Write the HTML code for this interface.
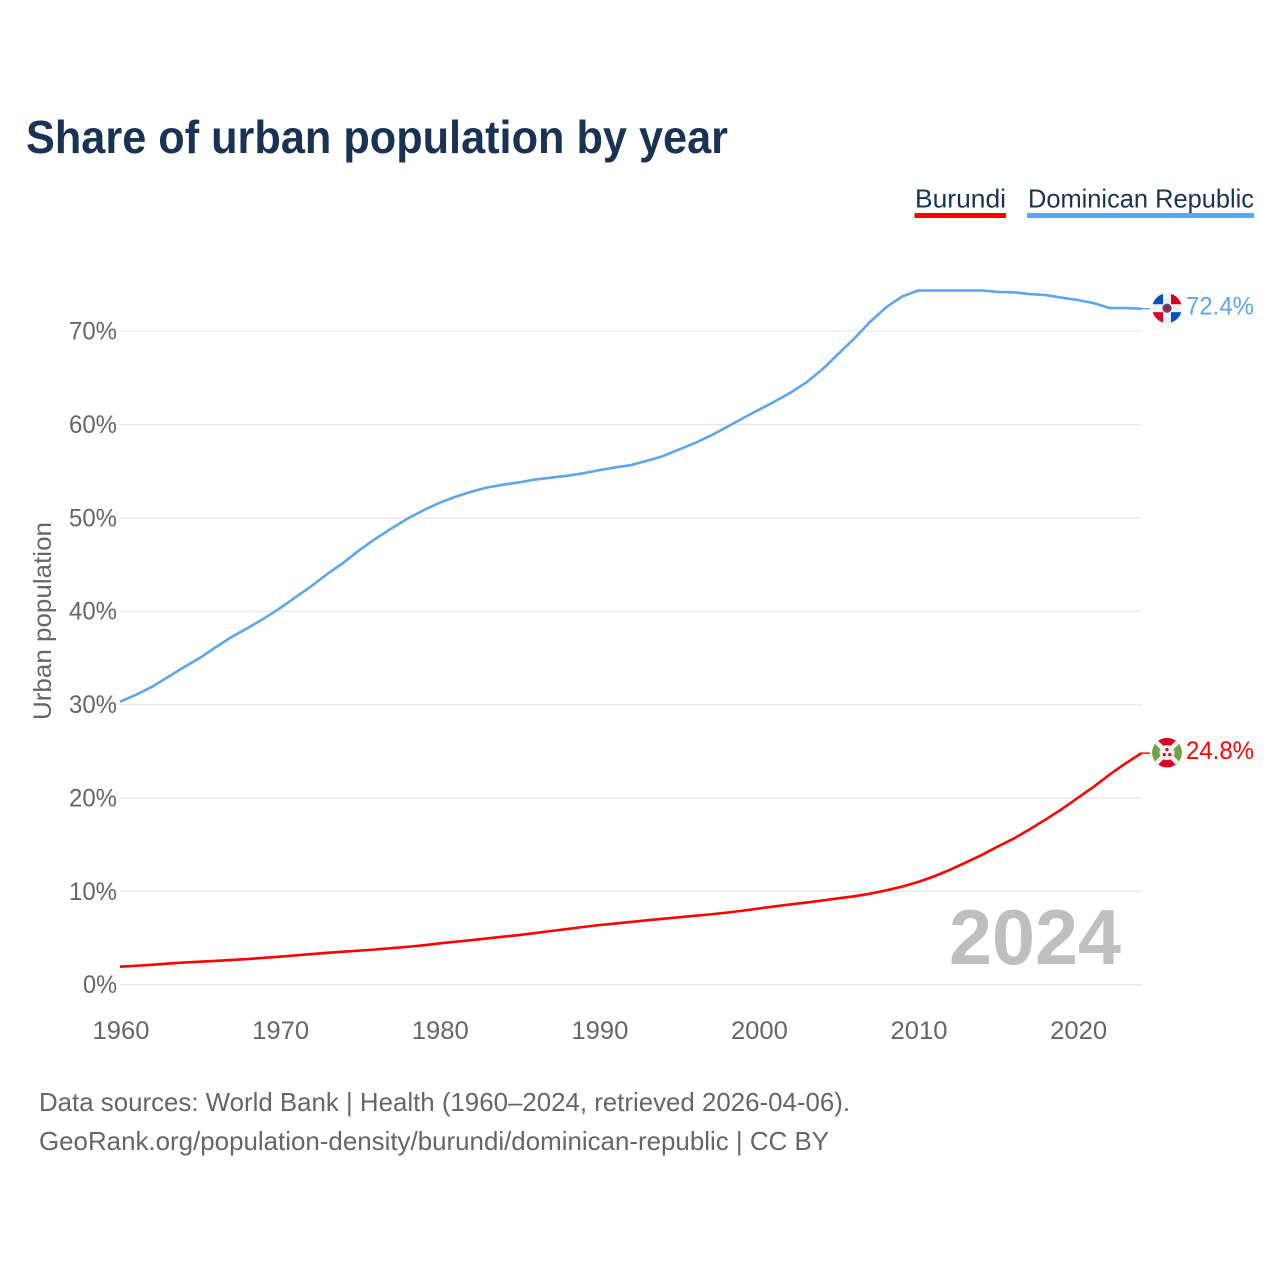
<!DOCTYPE html>
<html>
<head>
<meta charset="utf-8">
<title>Share of urban population by year</title>
<style>
html,body{margin:0;padding:0;background:#fff;}
svg{display:block;font-family:"Liberation Sans",sans-serif;}
</style>
</head>
<body>
<svg id="chart" width="1280" height="1280" viewBox="0 0 1280 1280" xmlns="http://www.w3.org/2000/svg">
<defs>
<clipPath id="flag-clip"><circle cx="0" cy="0" r="14.8"/></clipPath>
</defs>
<rect width="1280" height="1280" fill="#fff"/>
<text x="26" y="153" font-size="46" font-weight="700" fill="#1a3353" textLength="702" lengthAdjust="spacingAndGlyphs">Share of urban population by year</text>

<g>
<text x="915" y="207.5" font-size="26" fill="#1a3353" textLength="91" lengthAdjust="spacingAndGlyphs">Burundi</text>
<rect x="914.5" y="213" width="91.5" height="5" fill="#ff0000"/>
</g>
<g>
<text x="1028" y="207.5" font-size="26" fill="#1a3353" textLength="226" lengthAdjust="spacingAndGlyphs">Dominican Republic</text>
<rect x="1027" y="213" width="227" height="5" fill="#5ea6ec"/>
</g>

<g id="grid"></g>
<g id="yticks"></g>
<g id="xticks"></g>

<text transform="translate(51,720) rotate(-90)" x="0" y="0" font-size="25" fill="#666" textLength="198" lengthAdjust="spacingAndGlyphs">Urban population</text>

<text x="949" y="964" font-size="78" font-weight="700" fill="#bfbfbf" textLength="172" lengthAdjust="spacingAndGlyphs">2024</text>

<g id="series"></g>

<g id="flag-dr">
<g clip-path="url(#flag-clip)">
<rect x="-15" y="-15" width="30" height="30" fill="#f0f0f0"/>
<rect x="-15" y="-15" width="11" height="11" fill="#0052b4"/>
<rect x="4" y="-15" width="11" height="11" fill="#d80027"/>
<rect x="-15" y="4" width="11" height="11" fill="#d80027"/>
<rect x="4" y="4" width="11" height="11" fill="#0052b4"/>
<circle r="4.6" fill="#3c5a78"/>
<circle r="2.6" fill="#d80027"/>
</g>
</g>
<g id="flag-bi">
<g clip-path="url(#flag-clip)">
<rect x="-15" y="-15" width="30" height="30" fill="#d80027"/>
<polygon points="-15,-15 0,0 -15,15" fill="#6da544"/>
<polygon points="15,-15 0,0 15,15" fill="#6da544"/>
<line x1="-15" y1="-15" x2="15" y2="15" stroke="#f0f0f0" stroke-width="4.5"/>
<line x1="15" y1="-15" x2="-15" y2="15" stroke="#f0f0f0" stroke-width="4.5"/>
<circle r="7.5" fill="#f0f0f0"/>
<circle cx="0" cy="-3" r="1.6" fill="#d80027"/>
<circle cx="-2.8" cy="2" r="1.6" fill="#d80027"/>
<circle cx="2.8" cy="2" r="1.6" fill="#d80027"/>
</g>
</g>
<g id="value-labels"></g>

<text x="39" y="1111" font-size="26" fill="#666" textLength="811" lengthAdjust="spacingAndGlyphs">Data sources: World Bank | Health (1960–2024, retrieved 2026-04-06).</text>
<text x="39" y="1150" font-size="26" fill="#666" textLength="790" lengthAdjust="spacingAndGlyphs">GeoRank.org/population-density/burundi/dominican-republic | CC BY</text>
</svg>
<script>
var startYear = 1960;
var endYear = 2024;
var yTickValues = [0, 10, 20, 30, 40, 50, 60, 70];
var xTickValues = [1960, 1970, 1980, 1990, 2000, 2010, 2020];
var burundiValues = [1.93, 2.03, 2.13, 2.26, 2.37, 2.46, 2.55, 2.65, 2.75, 2.88,
  3.0, 3.14, 3.28, 3.42, 3.54, 3.65, 3.77, 3.91, 4.05, 4.22,
  4.42, 4.6, 4.77, 4.95, 5.14, 5.32, 5.53, 5.75, 5.96, 6.18,
  6.38, 6.55, 6.72, 6.9, 7.06, 7.22, 7.38, 7.53, 7.72, 7.92,
  8.15, 8.38, 8.6, 8.8, 9.02, 9.25, 9.47, 9.75, 10.1, 10.5,
  11.0, 11.6, 12.3, 13.1, 13.9, 14.8, 15.65, 16.65, 17.7, 18.8,
  20.0, 21.2, 22.5, 23.7, 24.8];
var dominicanValues = [30.3, 31.05, 31.9, 32.95, 34.0, 35.0, 36.15, 37.25, 38.2, 39.2,
  40.3, 41.5, 42.7, 44.0, 45.2, 46.55, 47.75, 48.85, 49.9, 50.8,
  51.6, 52.25, 52.8, 53.25, 53.55, 53.8, 54.1, 54.3, 54.5, 54.77,
  55.1, 55.4, 55.65, 56.1, 56.6, 57.3, 58.0, 58.8, 59.7, 60.65,
  61.55, 62.45, 63.4, 64.5, 65.9, 67.55, 69.2, 71.0, 72.55, 73.7,
  74.35, 74.35, 74.35, 74.35, 74.35, 74.2, 74.15, 73.97, 73.86, 73.58,
  73.33, 73.0, 72.47, 72.47, 72.4];

var NS = 'http://www.w3.org/2000/svg';
function xScale(year) { return 120 + (year - startYear) * (1141.5 - 120) / (endYear - startYear); }
function yScale(pct) { return 984.7 - pct * 9.337; }
function el(tag, parent) { var n = document.createElementNS(NS, tag); parent.appendChild(n); return n; }

var grid = document.getElementById('grid');
var yticks = document.getElementById('yticks');
yTickValues.forEach(function (v) {
  var line = el('line', grid);
  
  
  line.setAttribute('x1', 120);
  line.setAttribute('x2', 1141.5);
  line.setAttribute('y1', yScale(v));
  line.setAttribute('y2', yScale(v));
  line.setAttribute('stroke', '#e8e8e8');
  line.setAttribute('stroke-width', '1.3');
  var t = el('text', yticks);
  
  
  t.setAttribute('x', 117);
  t.setAttribute('y', yScale(v) + 8.5);
  t.setAttribute('text-anchor', 'end');
  t.setAttribute('font-size', '25');
  t.setAttribute('fill', '#666');
  t.setAttribute('textLength', v === 0 ? 34 : 48);
  t.setAttribute('lengthAdjust', 'spacingAndGlyphs');
  t.textContent = v + '%';
});

var xticks = document.getElementById('xticks');
xTickValues.forEach(function (yr) {
  var t = el('text', xticks);
  
  
  t.setAttribute('x', xScale(yr) + 1);
  t.setAttribute('y', 1039);
  t.setAttribute('text-anchor', 'middle');
  t.setAttribute('font-size', '25');
  t.setAttribute('fill', '#666');
  t.setAttribute('textLength', 57);
  t.setAttribute('lengthAdjust', 'spacingAndGlyphs');
  t.textContent = yr;
});

function drawSeries(values, color, key, flagId) {
  var group = document.getElementById('series');
  var pts = values.map(function (v, i) { return xScale(startYear + i).toFixed(2) + ',' + yScale(v).toFixed(2); });
  var path = el('polyline', group);
  
  
  path.setAttribute('points', pts.join(' '));
  path.setAttribute('fill', 'none');
  path.setAttribute('stroke', color);
  path.setAttribute('stroke-width', '2.6');
  path.setAttribute('stroke-linejoin', 'round');

  var last = values[values.length - 1];
  var yEnd = yScale(last);
  var conn = el('line', group);
  
  
  conn.setAttribute('x1', xScale(endYear));
  conn.setAttribute('x2', 1150);
  conn.setAttribute('y1', yEnd);
  conn.setAttribute('y2', yEnd);
  conn.setAttribute('stroke', color);
  conn.setAttribute('stroke-width', '1.4');

  document.getElementById(flagId).setAttribute('transform', 'translate(1167,' + (yEnd - 0.5).toFixed(2) + ')');

  var lab = el('text', document.getElementById('value-labels'));
  
  
  lab.setAttribute('x', 1186);
  lab.setAttribute('y', yEnd + 6);
  lab.setAttribute('font-size', '25');
  lab.setAttribute('fill', color);
  lab.setAttribute('textLength', 68);
  lab.setAttribute('lengthAdjust', 'spacingAndGlyphs');
  lab.textContent = last.toFixed(1) + '%';
}
drawSeries(dominicanValues, '#5ea6ec', 'dominican-republic', 'flag-dr');
drawSeries(burundiValues, '#ff0000', 'burundi', 'flag-bi');
</script>
</body>
</html>
